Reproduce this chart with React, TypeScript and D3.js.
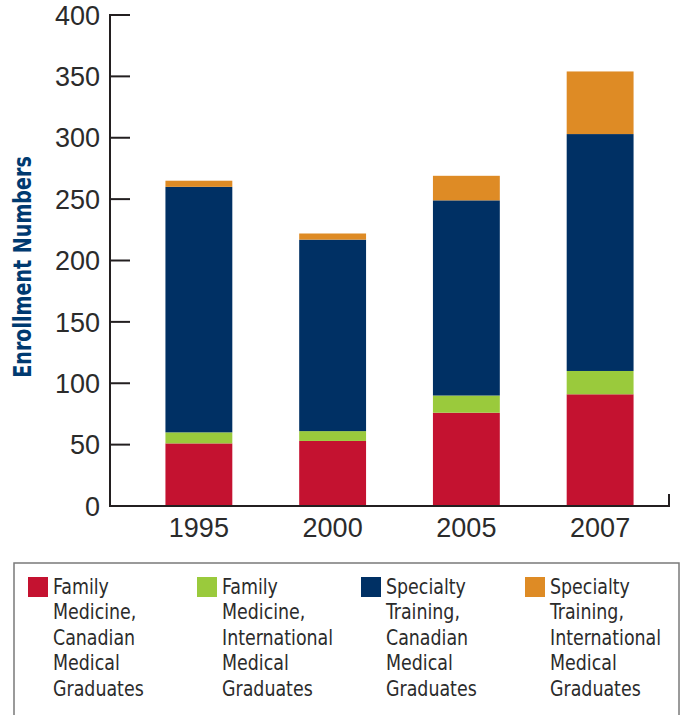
import React from "react";
import * as d3 from "d3";

const years = ["1995", "2000", "2005", "2007"];
const familyCanadian = [51, 53, 76, 91];
const familyInternational = [9, 8, 14, 19];
const specialtyCanadian = [200, 156, 159, 193];
const specialtyInternational = [5, 5, 20, 51];
const yTicks = [0, 50, 100, 150, 200, 250, 300, 350, 400];
const seriesKeys = ["fc", "fi", "sc", "si"];
const seriesColors = ["#c41230", "#9aca3c", "#003064", "#de8b25"];
const legendLabels = [
  ["Family", "Medicine,", "Canadian", "Medical", "Graduates"],
  ["Family", "Medicine,", "International", "Medical", "Graduates"],
  ["Specialty", "Training,", "Canadian", "Medical", "Graduates"],
  ["Specialty", "Training,", "International", "Medical", "Graduates"],
];

const W = 680;
const H = 715;
const narrow = "'Liberation Sans Narrow', 'DejaVu Sans Condensed', sans-serif";
const regular = "'Liberation Sans', Arial, sans-serif";

export default function App() {
  const rows = years.map((y, i) => ({
    year: y,
    fc: familyCanadian[i],
    fi: familyInternational[i],
    sc: specialtyCanadian[i],
    si: specialtyInternational[i],
  }));
  const stack = d3.stack<any>().keys(seriesKeys)(rows);
  const x = d3.scaleBand<string>().domain(years).range([132, 667]).paddingInner(0.5).paddingOuter(0.25);
  const y = d3.scaleLinear().domain([0, 400]).range([506, 15]);
  const axisX = 110;
  const legendX = [28, 197, 361, 525];

  return (
    <svg width={W} height={H} style={{ position: "absolute", left: 0, top: 0, background: "#fff" }}>
      {stack.map((s, si) =>
        s.map((d, i) => (
          <rect
            key={`${si}-${i}`}
            x={x(years[i])}
            width={x.bandwidth()}
            y={y(d[1])}
            height={y(d[0]) - y(d[1])}
            fill={seriesColors[si]}
          />
        ))
      )}
      {/* y axis */}
      <line x1={axisX} x2={axisX} y1={y(400) - 1} y2={y(0) + 1} stroke="#231f20" strokeWidth={2} />
      {yTicks.map((t) => (
        <g key={t}>
          <line x1={axisX} x2={axisX + 20} y1={y(t)} y2={y(t)} stroke="#231f20" strokeWidth={2} />
          <text
            x={100}
            y={y(t)}
            dy="0.36em"
            textAnchor="end"
            fontFamily={regular}
            fontSize={27}
            fill="#2b2b2b"
          >
            {t}
          </text>
        </g>
      ))}
      {/* x axis */}
      <line x1={axisX} x2={670} y1={y(0)} y2={y(0)} stroke="#231f20" strokeWidth={2} />
      <line x1={669} x2={669} y1={y(0)} y2={y(0) - 12} stroke="#231f20" strokeWidth={2} />
      {years.map((yr) => (
        <text
          key={yr}
          x={(x(yr) as number) + x.bandwidth() / 2}
          y={537}
          textAnchor="middle"
          fontFamily={regular}
          fontSize={27}
          fill="#2b2b2b"
        >
          {yr}
        </text>
      ))}
      <text
        transform={`translate(31, 267) rotate(-90) scale(0.85, 1)`}
        textAnchor="middle"
        fontFamily={narrow}
        fontWeight="bold"
        fontSize={25}
        fill="#003a70"
      >
        Enrollment Numbers
      </text>
      {/* legend */}
      <rect x={14} y={563} width={665} height={170} fill="none" stroke="#7a7a7a" strokeWidth={1.5} />
      {legendLabels.map((lines, i) => (
        <g key={i}>
          <rect x={legendX[i]} y={577} width={20} height={20} fill={seriesColors[i]} />
          <g transform={`translate(${legendX[i] + 25}, 594) scale(0.88, 1)`}>
            {lines.map((ln, j) => (
              <text key={j} x={0} y={j * 25.5} fontFamily={narrow} fontSize={22} fill="#2b2b2b">
                {ln}
              </text>
            ))}
          </g>
        </g>
      ))}
    </svg>
  );
}
